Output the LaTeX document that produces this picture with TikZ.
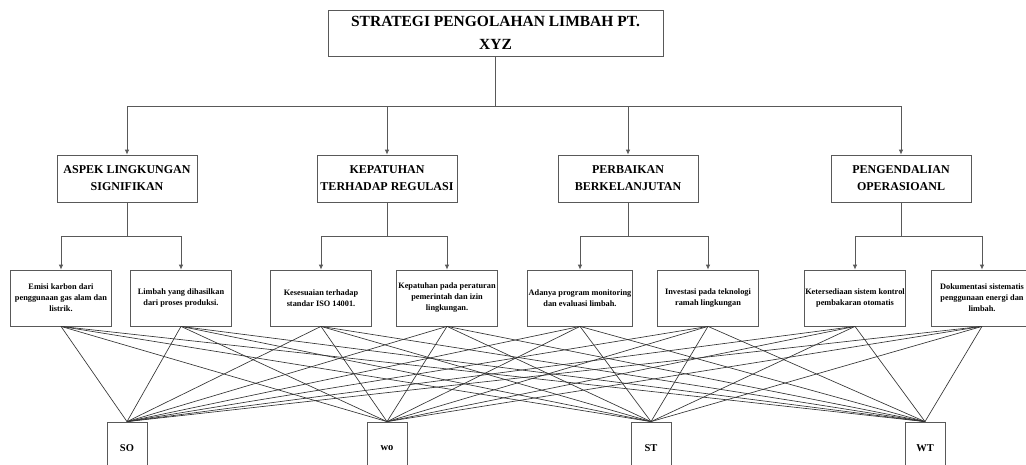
\documentclass[tikz,border=0pt]{standalone}
\usepackage{fontspec}
\setmainfont{Liberation Serif}
\usetikzlibrary{arrows.meta}
\begin{document}
\begin{tikzpicture}[x=1pt,y=-1pt,
  box/.style={draw=black!65,line width=0.8pt,fill=white,align=center,inner sep=1pt},
  titlebox/.style={box,minimum width=335pt,minimum height=46pt,font=\bfseries\fontsize{15.5}{23}\selectfont},
  headbox/.style={box,minimum width=140pt,minimum height=47pt,font=\bfseries\fontsize{12}{17}\selectfont},
  leafbox/.style={box,minimum width=101pt,minimum height=56pt,font=\bfseries\fontsize{8.3}{11}\selectfont},
  swotbox/.style={box,minimum width=40pt,minimum height=52pt,font=\bfseries\fontsize{10.5}{12}\selectfont},
  conn/.style={draw=black!65,line width=0.8pt},
  arr/.style={conn,-{Latex[length=5pt,width=4.5pt]}},
  fan/.style={draw=black!80,line width=0.65pt}]
\useasboundingbox (0,0) rectangle (1026,464);
\fill[white] (0,0) rectangle (1026,464);

\node[titlebox] (top) at (495.5,33) {STRATEGI PENGOLAHAN LIMBAH PT.\\XYZ};

\node[headbox] (A) at (127,178.5) {ASPEK LINGKUNGAN\\SIGNIFIKAN};
\node[headbox] (B) at (387,178.5) {KEPATUHAN\\TERHADAP REGULASI};
\node[headbox] (C) at (628,178.5) {PERBAIKAN\\BERKELANJUTAN};
\node[headbox] (D) at (901,178.5) {PENGENDALIAN\\OPERASIOANL};

\node[leafbox] (a1) at (61,298) {Emisi karbon dari\\penggunaan gas alam dan\\listrik.};
\node[leafbox] (a2) at (181,298) {Limbah yang dihasilkan\\dari proses produksi.};
\node[leafbox] (b1) at (321,298) {Kesesuaian terhadap\\standar ISO 14001.};
\node[leafbox] (b2) at (447,298) {Kepatuhan pada peraturan\\pemerintah dan izin\\lingkungan.};
\node[leafbox] (c1) at (580,298) {Adanya program monitoring\\dan evaluasi limbah.};
\node[leafbox] (c2) at (708,298) {Investasi pada teknologi\\ramah lingkungan};
\node[leafbox] (d1) at (855,298) {Ketersediaan sistem kontrol\\pembakaran otomatis};
\node[leafbox] (d2) at (982,298) {Dokumentasi sistematis\\penggunaan energi dan\\limbah.};

\node[swotbox] (SO) at (127,448) {SO};
\node[swotbox] (WO) at (387,448) {wo};
\node[swotbox] (ST) at (651,448) {ST};
\node[swotbox] (WT) at (925,448) {WT};

% level 1 -> level 2
\coordinate (bus) at (495.5,106);
\draw[conn] (top.south) -- (bus);
\foreach \h in {A,B,C,D} \draw[arr] (bus) -| (\h.north);

% level 2 -> level 3
\foreach \h/\l/\r in {A/a1/a2,B/b1/b2,C/c1/c2,D/d1/d2}{
  \coordinate (j\h) at ([yshift=-34pt]\h.south);
  \draw[conn] (\h.south) -- (j\h);
  \draw[arr] (j\h) -| (\l.north);
  \draw[arr] (j\h) -| (\r.north);
}

% fan lines
\foreach \l in {a1,a2,b1,b2,c1,c2,d1,d2}
  \foreach \s in {SO,WO,ST,WT}
    \draw[fan] (\l.south) -- (\s.north);
\end{tikzpicture}
\end{document}
